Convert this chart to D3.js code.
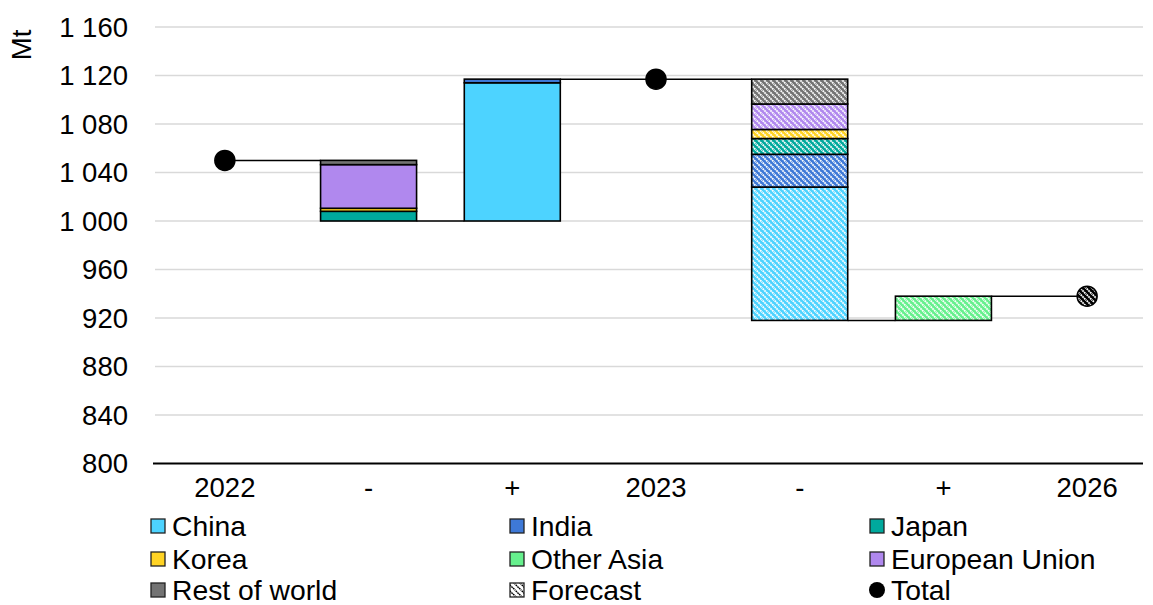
<!DOCTYPE html>
<html><head><meta charset="utf-8">
<script src="https://cdn.jsdelivr.net/npm/d3@7"></script>
<style>
html,body{margin:0;padding:0;background:#fff;}
svg{display:block;font-family:"Liberation Sans",Arial,sans-serif;}
</style></head>
<body><svg id="chart" width="1153" height="605"></svg>
<script>
// ---- data ----
const categories = ["2022", "-", "+", "2023", "-", "+", "2026"];
const kinds = ["total", "dec", "inc", "total", "dec", "inc", "total"];
const forecast = [false, false, false, false, true, true, true];
const totals = [1050, null, null, 1117, null, null, 938];
const seriesNames = ["China", "India", "Japan", "Korea", "Other Asia", "European Union", "Rest of world"];
const seriesColors = ["#4DD3FF", "#3E79D7", "#00A99D", "#FFD324", "#66F08D", "#B088EE", "#737373"];
const china     = [0, 0,   114, 0, 110, 0,  0];
const india     = [0, 0,   3,   0, 27,  0,  0];
const japan     = [0, 8,   0,   0, 13,  0,  0];
const korea     = [0, 2.5, 0,   0, 7.5, 0,  0];
const otherAsia = [0, 0,   0,   0, 0,   20, 0];
const eu        = [0, 36,  0,   0, 21,  0,  0];
const restWorld = [0, 3.5, 0,   0, 20.5,0,  0];
const yTicks = [800, 840, 880, 920, 960, 1000, 1040, 1080, 1120, 1160];
const seriesValues = [china, india, japan, korea, otherAsia, eu, restWorld];

// ---- layout ----
const svg = d3.select("#chart");
const FS = 27.5;
const LFS = 28.3;
const x = d3.scaleBand().domain(d3.range(categories.length)).range([153, 1159]).paddingInner(0.332).paddingOuter(0.166);
const y = d3.scaleLinear().domain([800, 1160]).range([463.5, 27]);
const gridRight = 1143;

const defs = svg.append("defs");
function hatch(id, bg, fg, sw) {
  const p = defs.append("pattern").attr("id", id).attr("patternUnits", "userSpaceOnUse")
    .attr("width", 6).attr("height", 6);
  p.append("rect").attr("width", 6).attr("height", 6).attr("fill", bg);
  p.append("path").attr("d", "M-1,-1 L7,7 M-1,5 L1,7 M5,-1 L7,1")
    .attr("stroke", fg).attr("stroke-width", sw).attr("stroke-dasharray", "1.8,0.6");
}
seriesColors.forEach((c, i) => hatch("h" + i, c, "#fff", 1.8));
hatch("hblack", "#000", "#fff", 1.8);
hatch("hlegend", "#fff", "#000", 1.4);

// gridlines
svg.append("g").selectAll("line").data(yTicks.filter(t => t !== 800)).join("line")
  .attr("x1", 155).attr("x2", gridRight)
  .attr("y1", d => y(d)).attr("y2", d => y(d))
  .attr("stroke", "#d9d9d9").attr("stroke-width", 1.5);

// y tick labels
svg.append("g").selectAll("text").data(yTicks).join("text")
  .attr("x", 128).attr("y", d => y(d)).attr("dy", "0.35em")
  .attr("text-anchor", "end").attr("font-size", FS).attr("fill", "#000")
  .text(d => d3.format(",")(d).replace(",", " "));

svg.append("text").attr("transform", "translate(31,45) rotate(-90)")
  .attr("text-anchor", "middle").attr("font-size", FS).text("Mt");

// bars: compute levels
const bars = [];
const levelAfter = [];
let level = totals[0];
categories.forEach((c, i) => {
  if (kinds[i] === "total") { level = totals[i]; levelAfter.push(level); return; }
  const sum = d3.sum(seriesValues, s => s[i]);
  let base = kinds[i] === "dec" ? level - sum : level;
  level = kinds[i] === "dec" ? base : level + sum;
  levelAfter.push(level);
  let cur = base;
  seriesValues.forEach((s, k) => {
    if (s[i] > 0) { bars.push({i, k, y0: cur, y1: cur + s[i]}); cur += s[i]; }
  });
});

// connector lines
const edgeR = i => kinds[i] === "total" ? x(i) + x.bandwidth() / 2 : x(i) + x.bandwidth();
const edgeL = i => kinds[i] === "total" ? x(i) + x.bandwidth() / 2 : x(i);
svg.append("g").selectAll("line").data(d3.range(categories.length - 1)).join("line")
  .attr("x1", i => edgeR(i)).attr("x2", i => edgeL(i + 1))
  .attr("y1", i => y(levelAfter[i])).attr("y2", i => y(levelAfter[i]))
  .attr("stroke", "#000").attr("stroke-width", 1.5);

svg.append("g").selectAll("rect").data(bars).join("rect")
  .attr("x", d => x(d.i)).attr("width", x.bandwidth())
  .attr("y", d => y(d.y1)).attr("height", d => y(d.y0) - y(d.y1))
  .attr("fill", d => forecast[d.i] ? `url(#h${d.k})` : seriesColors[d.k])
  .attr("stroke", "#000").attr("stroke-width", 1.6);

// x axis line
svg.append("line").attr("x1", 153).attr("x2", gridRight).attr("y1", y(800)).attr("y2", y(800))
  .attr("stroke", "#000").attr("stroke-width", 2);

svg.append("g").selectAll("text").data(categories).join("text")
  .attr("x", (d, i) => x(i) + x.bandwidth() / 2).attr("y", 497)
  .attr("text-anchor", "middle").attr("font-size", FS).text(d => d);

// total dots
const totIdx = d3.range(categories.length).filter(i => kinds[i] === "total");
svg.append("g").selectAll("circle").data(totIdx).join("circle")
  .attr("cx", i => x(i) + x.bandwidth() / 2).attr("cy", i => y(totals[i])).attr("r", 10)
  .attr("fill", i => forecast[i] ? "url(#hblack)" : "#000")
  .attr("stroke", "#000").attr("stroke-width", 1.5);

// legend
const legendItems = [
  {name: "China", type: "sq", fill: seriesColors[0]},
  {name: "India", type: "sq", fill: seriesColors[1]},
  {name: "Japan", type: "sq", fill: seriesColors[2]},
  {name: "Korea", type: "sq", fill: seriesColors[3]},
  {name: "Other Asia", type: "sq", fill: seriesColors[4]},
  {name: "European Union", type: "sq", fill: seriesColors[5]},
  {name: "Rest of world", type: "sq", fill: seriesColors[6]},
  {name: "Forecast", type: "sq", fill: "url(#hlegend)"},
  {name: "Total", type: "dot", fill: "#000"}
];
const colX = [150, 509, 869];
const rowY = [526, 559, 590];
const lg = svg.append("g").selectAll("g").data(legendItems).join("g")
  .attr("transform", (d, i) => `translate(${colX[i % 3]},${rowY[Math.floor(i / 3)]})`);
lg.filter(d => d.type === "sq").append("rect")
  .attr("x", 1).attr("y", -7).attr("width", 14).attr("height", 14)
  .attr("fill", d => d.fill).attr("stroke", "#222").attr("stroke-width", 1.3);
lg.filter(d => d.type === "dot").append("circle")
  .attr("cx", 8).attr("cy", 0).attr("r", 8).attr("fill", "#000");
lg.append("text").attr("x", 22).attr("dy", "0.35em").attr("font-size", LFS).text(d => d.name);
</script></body></html>
